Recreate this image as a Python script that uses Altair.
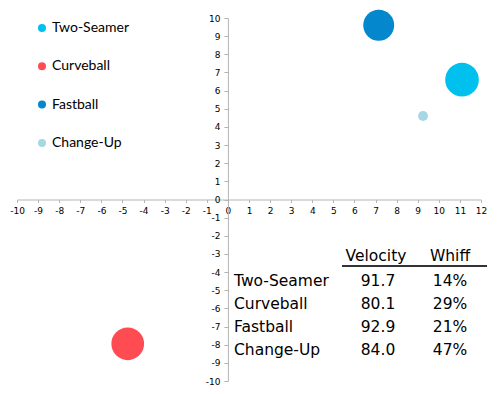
import altair as alt
import pandas as pd

# ---- data ----
pitches = ["Two-Seamer", "Curveball", "Fastball", "Change-Up"]
h_break = [11.1, -4.75, 7.15, 9.25]
v_break = [6.6, -7.95, 9.6, 4.6]
usage = [35, 33, 29.5, 3]
velocity = ["91.7", "80.1", "92.9", "84.0"]
whiff = ["14%", "29%", "21%", "47%"]
colors = ["#00C0EE", "#FF4C52", "#0487CC", "#A5D8E4"]
x_ticks = list(range(-10, 13))
y_ticks = list(range(-10, 11))

W, H = 464, 363

df = pd.DataFrame({"pitch": pitches, "hb": h_break, "vb": v_break, "usage": usage})

bubbles = alt.Chart(df).mark_circle(opacity=1, strokeWidth=0).encode(
    x=alt.X("hb:Q", title=None,
            scale=alt.Scale(domain=[-10, 12], nice=False, zero=False),
            axis=alt.Axis(values=x_ticks, offset=-H / 2, grid=False, domainColor="#b5b5b5",
                          tickColor="#b5b5b5", tickSize=3, labelPadding=4,
                          labelFont="DejaVu Sans", labelFontSize=9, labelColor="#000000",
                          labelOverlap=False, labelFlush=False, labelExpr="'' + datum.value")),
    y=alt.Y("vb:Q", title=None,
            scale=alt.Scale(domain=[-10, 10], nice=False, zero=False),
            axis=alt.Axis(values=y_ticks, offset=-W * 10 / 22, grid=False, domainColor="#b5b5b5",
                          tickColor="#b5b5b5", tickSize=4, labelPadding=4,
                          labelFont="DejaVu Sans", labelFontSize=9, labelColor="#000000",
                          labelOverlap=False, labelFlush=False, labelExpr="'' + datum.value")),
    color=alt.Color("pitch:N", sort=pitches,
                    scale=alt.Scale(domain=pitches, range=colors),
                    legend=alt.Legend(orient="none", legendX=18, legendY=3, title=None,
                                      symbolType="circle", symbolSize=64, symbolStrokeWidth=0,
                                      labelFont="Lato", labelFontSize=14, labelColor="#000000",
                                      rowPadding=24.3, padding=0, labelOffset=3)),
    size=alt.Size("usage:Q", scale=alt.Scale(domain=[0, 35], range=[0, 1134], zero=True),
                  legend=None),
)

one = pd.DataFrame({"a": [0]})
font = "DejaVu Sans"
fs = 15.5
lh = 23
row_top = 256

names_txt = alt.Chart(one).mark_text(align="left", baseline="top", font=font, fontSize=fs,
                                     lineBreak="\n", lineHeight=lh, color="#000000").encode(
    x=alt.value(217), y=alt.value(row_top), text=alt.value("\n".join(pitches)))
vel_txt = alt.Chart(one).mark_text(align="center", baseline="top", font=font, fontSize=fs,
                                   lineBreak="\n", lineHeight=lh, color="#000000").encode(
    x=alt.value(361), y=alt.value(row_top), text=alt.value("\n".join(velocity)))
whiff_txt = alt.Chart(one).mark_text(align="center", baseline="top", font=font, fontSize=fs,
                                     lineBreak="\n", lineHeight=lh, color="#000000").encode(
    x=alt.value(433), y=alt.value(row_top), text=alt.value("\n".join(whiff)))
head1 = alt.Chart(one).mark_text(align="center", baseline="middle", font=font, fontSize=fs,
                                 color="#000000").encode(
    x=alt.value(359), y=alt.value(238), text=alt.value("Velocity"))
head2 = alt.Chart(one).mark_text(align="center", baseline="middle", font=font, fontSize=fs,
                                 color="#000000").encode(
    x=alt.value(433), y=alt.value(238), text=alt.value("Whiff"))
underline = alt.Chart(one).mark_rule(color="#333333", strokeWidth=2).encode(
    x=alt.value(325), x2=alt.value(470), y=alt.value(248))

chart = alt.layer(bubbles, underline, head1, head2, names_txt, vel_txt, whiff_txt).properties(
    width=W, height=H,
    autosize=alt.AutoSizeParams(type="none"),
    padding={"left": 9, "top": 10, "right": 10, "bottom": 5},
    background="#ffffff",
).configure_view(strokeWidth=0)

chart.save("out.html", embed_options={"renderer": "svg", "actions": False})
